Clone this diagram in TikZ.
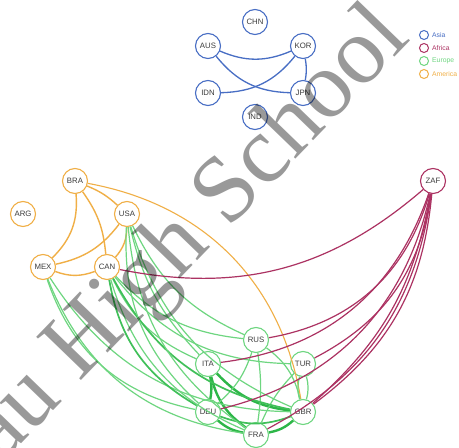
\documentclass[tikz,border=0pt]{standalone}
\usepackage{fontspec}
\setmainfont{Liberation Sans}
\newfontfamily\wmfont{Liberation Serif}
\definecolor{asia}{RGB}{72,110,196}
\definecolor{africa}{RGB}{172,50,98}
\definecolor{europe}{RGB}{110,214,128}
\definecolor{europedark}{RGB}{45,182,72}
\definecolor{america}{RGB}{240,175,70}
\definecolor{lbl}{RGB}{60,60,60}
\begin{document}
\begin{tikzpicture}[x=1pt,y=1pt,
  country/.style={circle, draw=#1, fill=white, line width=1.1pt, minimum size=25pt, inner sep=0pt, font=\fontsize{7.8}{8}\selectfont, text=lbl},
  legcirc/.style={circle, draw=#1, line width=1pt, minimum size=9pt, inner sep=0pt},
  legtext/.style={anchor=west, inner sep=0pt, font=\fontsize{6.8}{7}\selectfont, text=#1},
  asiaedge/.style={draw=asia, line width=1.3pt},
  afedge/.style={draw=africa, line width=1.2pt},
  amedge/.style={draw=america, line width=1.4pt},
  euedge/.style={draw=europe, line width=1.2pt},
  euthick/.style={draw=europedark, line width=2.4pt},
  eumid/.style={draw=europedark!70!europe, line width=1.7pt}
]
\clip (0,0) rectangle (459,448);
\fill[white] (0,0) rectangle (459,448);

% Asia
\node[country=asia] (CHN) at (255,426) {CHN};
\node[country=asia] (AUS) at (208,402) {AUS};
\node[country=asia] (KOR) at (303,402) {KOR};
\node[country=asia] (IDN) at (208,355) {IDN};
\node[country=asia] (JPN) at (303,355) {JPN};
\node[country=asia] (IND) at (255,331) {IND};
% Americas
\node[country=america] (BRA) at (75,267) {BRA};
\node[country=america] (ARG) at (23,234) {ARG};
\node[country=america] (USA) at (127,234) {USA};
\node[country=america] (MEX) at (43,181) {MEX};
\node[country=america] (CAN) at (107,181) {CAN};
% Africa
\node[country=africa] (ZAF) at (433,267) {ZAF};
% Europe
\node[country=europe] (RUS) at (256,108) {RUS};
\node[country=europe] (ITA) at (208,84) {ITA};
\node[country=europe] (TUR) at (303,84) {TUR};
\node[country=europe] (DEU) at (208,36) {DEU};
\node[country=europe] (GBR) at (303,36) {GBR};
\node[country=europe] (FRA) at (256,13) {FRA};

% Legend
\node[legcirc=asia] (lA) at (424,413) {};
\node[legcirc=africa] (lF) at (424,400) {};
\node[legcirc=europe] (lE) at (424,387) {};
\node[legcirc=america] (lM) at (424,374) {};
\node[legtext=asia] (tA) at (432,413) {Asia};
\node[legtext=africa] (tF) at (432,400) {Africa};
\node[legtext=europe] (tE) at (432,387) {Europe};
\node[legtext=america] (tM) at (432,374) {America};

% Asia edges
\draw[asiaedge] (AUS) to[bend right=23] (KOR);
\draw[asiaedge] (AUS) to[bend right=25] (JPN);
\draw[asiaedge] (IDN) to[bend right=25] (KOR);
\draw[asiaedge] (KOR) to[bend left=10] (JPN);

% Americas edges
\draw[amedge] (BRA) to[bend left=10] (USA);
\draw[amedge] (BRA) to[bend left=25] (MEX);
\draw[amedge] (BRA) to[bend left=15] (CAN);
\draw[amedge] (USA) to[bend left=20] (MEX);
\draw[amedge] (USA) to[bend left=20] (CAN);
\draw[amedge] (MEX) to[bend right=20] (CAN);
\draw[amedge, line width=1.1pt] (BRA) to[bend left=35] (GBR);

% Europe internal
\draw[euthick] (ITA) to[bend left=10] (DEU);
\draw[euthick] (ITA) to[bend right=20] (FRA);
\draw[euthick] (ITA) to[bend right=20] (GBR);
\draw[euthick] (DEU) to[bend right=15] (FRA);
\draw[euthick] (FRA) to[bend right=15] (GBR);
\draw[eumid] (DEU) to[bend right=20] (GBR);
\draw[euedge] (RUS) to[bend left=15] (DEU);
\draw[euedge] (RUS) to[bend left=8] (FRA);
\draw[euedge] (RUS) to[bend left=20] (GBR);
\draw[euedge] (TUR) to[bend left=15] (GBR);
\draw[euedge] (TUR) to[bend right=15] (GBR);
\draw[euedge] (TUR) to[bend right=10] (FRA);

% Americas - Europe
\draw[euedge] (MEX) to[bend right=30] (DEU);
\draw[euedge] (MEX) to[bend right=30] (FRA);
\draw[euedge] (MEX) to[bend right=28] (GBR);
\draw[euedge] (CAN) to[bend right=20] (ITA);
\draw[eumid] (CAN) to[bend right=25] (DEU);
\draw[euedge] (CAN) to[bend right=25] (FRA);
\draw[eumid] (CAN) to[bend right=25] (GBR);
\draw[euedge] (CAN) to[bend right=20] (RUS);
\draw[euedge] (CAN) to[bend right=25] (TUR);
\draw[euedge] (USA) to[bend right=15] (ITA);
\draw[euedge] (USA) to[bend right=25] (DEU);
\draw[euedge] (USA) to[bend right=25] (GBR);
\draw[euedge] (USA) to[bend right=20] (RUS);
\draw[euedge] (USA) to[bend right=25] (FRA);

% Africa edges
\draw[afedge] (CAN) to[bend right=26] (ZAF);
\draw[afedge] (ZAF) to[bend left=32] (RUS);
\draw[afedge] (ZAF) to[bend left=32] (ITA);
\draw[afedge] (ZAF) to[bend left=32] (DEU);
\draw[afedge] (ZAF) to[bend left=27] (TUR);
\draw[afedge] (ZAF) to[bend left=19] (GBR);
\draw[afedge] (ZAF) to[bend left=24] (GBR);
\draw[afedge] (ZAF) to[bend left=27] (FRA);

% Watermark
\node[rotate=46, inner sep=0pt, text=black, text opacity=0.4, font=\wmfont\fontsize{95}{95}\selectfont] (wm) at (190,212) {au High School};
\end{tikzpicture}
\end{document}
